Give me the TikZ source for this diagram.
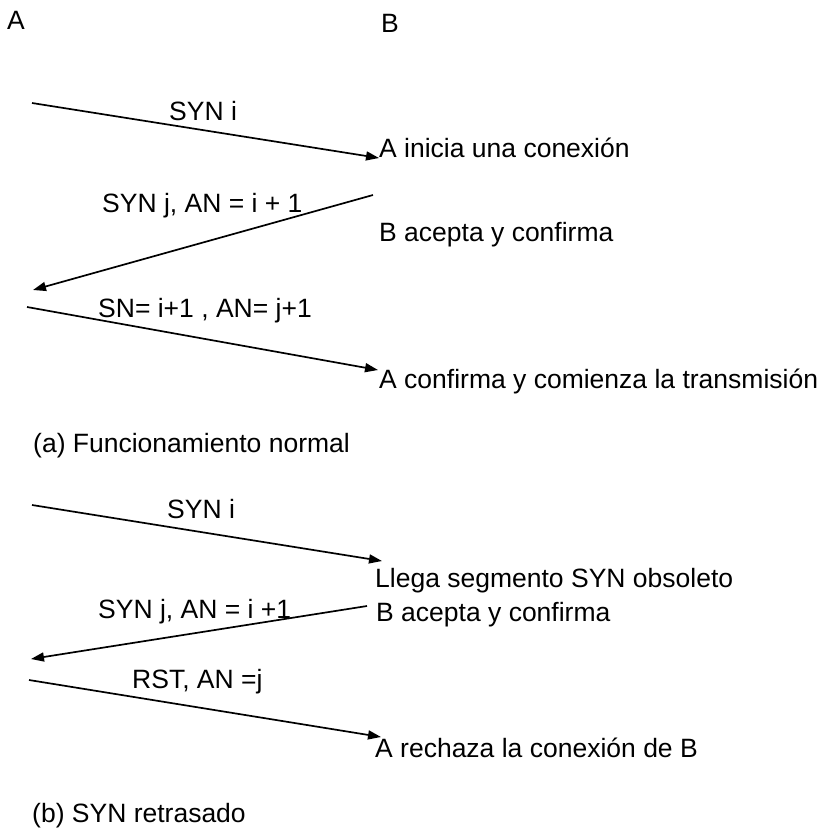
\documentclass[tikz,border=0pt]{standalone}
\usepackage{fontspec}
\setmainfont{Liberation Sans}
\usetikzlibrary{arrows.meta}
\begin{document}
\begin{tikzpicture}[x=1pt,y=-1pt,
  txt/.style={anchor=base west,inner sep=0pt,font=\fontsize{26.5}{30}\selectfont},
  msg/.style={line width=1.7pt,-{Triangle[length=13pt,width=9pt]}}]
\useasboundingbox (0,0) rectangle (820,833);
% end labels
\node[txt] (hA) at (7,29) {A};
\node[txt] (hB) at (381,32) {B};

% (a) normal operation
\coordinate (a1s) at (32,103);  \coordinate (a1e) at (379,158);
\coordinate (a2s) at (373,195); \coordinate (a2e) at (33,290);
\coordinate (a3s) at (27,307);  \coordinate (a3e) at (378,370);
\draw[msg] (a1s) -- (a1e);
\draw[msg] (a2s) -- (a2e);
\draw[msg] (a3s) -- (a3e);
\node[txt] (la1) at (169,120) {SYN i};
\node[txt] (la2) at (102,212) {SYN j, AN = i + 1};
\node[txt] (la3) at (98,317) {SN= i+1 , AN= j+1};
\node[txt] (ra1) at (379,157) {A inicia una conexión};
\node[txt] (ra2) at (379,241) {B acepta y confirma};
\node[txt] (ra3) at (379,388) {A confirma y comienza la transmisión};
\node[txt] (capa) at (33,452) {(a) Funcionamiento normal};

% (b) delayed SYN
\coordinate (b1s) at (32,505);  \coordinate (b1e) at (382,561);
\coordinate (b2s) at (367,606); \coordinate (b2e) at (31,659);
\coordinate (b3s) at (29,680);  \coordinate (b3e) at (381,737);
\draw[msg] (b1s) -- (b1e);
\draw[msg] (b2s) -- (b2e);
\draw[msg] (b3s) -- (b3e);
\node[txt] (lb1) at (167,518) {SYN i};
\node[txt] (lb2) at (98,618) {SYN j, AN = i +1};
\node[txt] (lb3) at (132,688) {RST, AN =j};
\node[txt] (rb1) at (375,587) {Llega segmento SYN obsoleto};
\node[txt] (rb2) at (376,621) {B acepta y confirma};
\node[txt] (rb3) at (375,757) {A rechaza la conexión de B};
\node[txt] (capb) at (32,822) {(b) SYN retrasado};
\end{tikzpicture}
\end{document}
